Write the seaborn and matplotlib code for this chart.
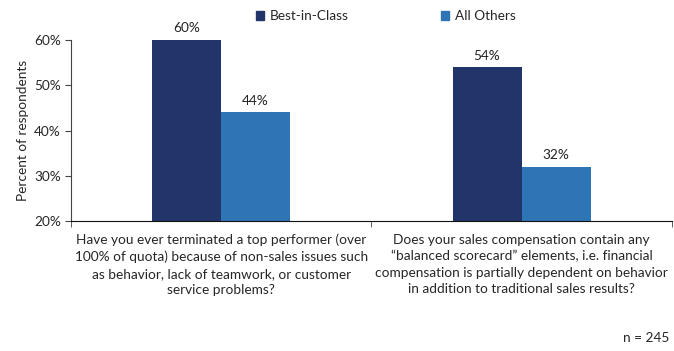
import pandas as pd
import numpy as np
import matplotlib.pyplot as plt
import seaborn as sns

# datos
preguntas = [
    "Have you ever terminated a top performer (over\n100% of quota) because of non-sales issues such\nas behavior, lack of teamwork, or customer\nservice problems?",
    "Does your sales compensation contain any\n\u201cbalanced scorecard\u201d elements, i.e. financial\ncompensation is partially dependent on behavior\nin addition to traditional sales results?",
]
grupos = ["Best-in-Class", "All Others"]
best_in_class = [60, 54]
all_others = [44, 32]
colores = ["#22356A", "#2E75B6"]

df = pd.DataFrame({
    "pregunta": preguntas * 2,
    "grupo": [grupos[0]] * 2 + [grupos[1]] * 2,
    "valor": best_in_class + all_others,
})

sns.set_style("white")
plt.rcParams["font.family"] = ["Lato", "DejaVu Sans"]
FS = 9.8

fig = plt.figure(figsize=(6.74, 3.51), dpi=100)
ax = fig.add_axes([0.105, 0.370, 0.892, 0.516])

sns.barplot(data=df, x="pregunta", y="valor", hue="grupo", palette=colores,
            width=0.46, gap=0, ax=ax, legend=False, saturation=1,
            edgecolor="none", linewidth=0)

for cont in ax.containers:
    ax.bar_label(cont, fmt="%d%%", padding=4, fontsize=FS, color="#222222")

ax.set_ylim(20, 60)
ax.set_xlim(-0.5, 1.5)
ax.set_yticks([20, 30, 40, 50, 60])
ax.set_yticklabels([f"{t}%" for t in [20, 30, 40, 50, 60]], fontsize=FS)
ax.set_ylabel("Percent of respondents", fontsize=FS)
ax.set_xlabel("")
ax.tick_params(axis="x", length=0, labelsize=FS, pad=9)
ax.tick_params(axis="y", direction="out", length=4, left=True, color="#444444", pad=3)
for lbl in ax.get_xticklabels():
    lbl.set_linespacing(1.45)

# marcas de separacion entre categorias
ax.set_xticks([-0.5, 0.5, 1.5], minor=True)
ax.tick_params(axis="x", which="minor", direction="out", length=4, bottom=True, color="#444444")

for s in ["top", "right"]:
    ax.spines[s].set_visible(False)
ax.spines["left"].set_color("#444444")
ax.spines["bottom"].set_color("#111111")

# leyenda manual arriba
handles = [plt.Rectangle((0, 0), 1, 1, color=c) for c in colores]
fig.legend(handles, grupos, loc="upper left", bbox_to_anchor=(0.362, 1.005), ncol=2,
           frameon=False, fontsize=FS, handlelength=0.6, handleheight=0.6,
           handletextpad=0.4, columnspacing=6.8)

fig.text(0.993, 0.02, "n = 245", ha="right", va="bottom", fontsize=FS)

plt.savefig("out.png", dpi=100)
